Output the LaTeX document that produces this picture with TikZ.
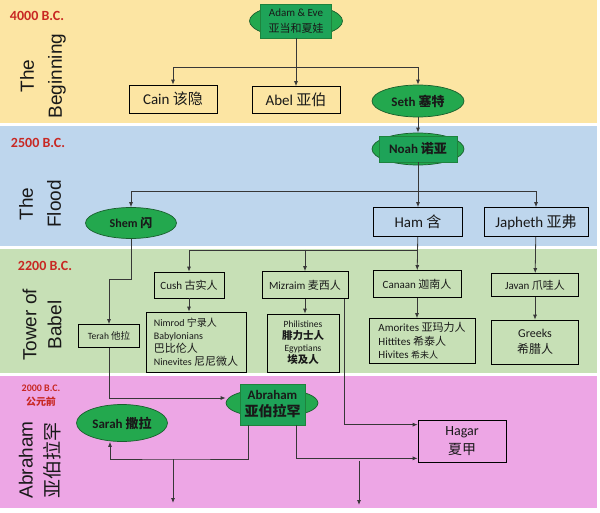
\documentclass[tikz,border=0pt]{standalone}
\usepackage{fontspec}
\setmainfont{Carlito}
\newfontfamily\cjk{Noto Sans CJK SC}
\newfontfamily\sidefont{Liberation Sans}
\usetikzlibrary{positioning, calc, shapes.geometric, arrows.meta}

\definecolor{bandYellow}{RGB}{252,229,163}
\definecolor{bandBlue}{RGB}{190,214,237}
\definecolor{bandGreen}{RGB}{199,224,182}
\definecolor{bandPink}{RGB}{237,166,229}
\definecolor{leaf}{RGB}{35,168,78}
\definecolor{leafBox}{RGB}{30,163,88}
\definecolor{leafDark}{RGB}{25,95,45}
\definecolor{eraRed}{RGB}{200,40,35}
\definecolor{ink}{RGB}{25,25,25}
\definecolor{linkGray}{RGB}{55,55,55}

\newcommand{\zh}[1]{{\cjk #1}}
\newcommand{\fs}[2]{\fontsize{#1}{#2}\selectfont}

\tikzstyle{Link} = [draw=linkGray, line width=0.8pt]
\tikzstyle{Arrow} = [Link, -{Latex[length=5pt, width=4pt]}]

\begin{document}
\begin{tikzpicture}[
x=1pt, y=-1pt,
box/.style={
    rectangle,
    draw=black,
    line width=0.7pt,
    inner sep=0pt,
    align=center,
    text=ink
    },
oval/.style={
    ellipse,
    draw=leafDark,
    fill=leaf,
    line width=0.7pt,
    inner sep=0pt,
    align=center,
    text=ink
    },
tab/.style={
    rectangle,
    fill=leafBox,
    draw=leafDark!50!leaf,
    line width=0.4pt,
    inner sep=0pt,
    align=center,
    text=ink
    },
era/.style={text=eraRed, align=center, font=\bfseries\fs{14}{16}},
period/.style={rotate=90, align=center, text=ink}
]

% background bands
\fill[white] (0,0) rectangle (600,513);
\useasboundingbox (0,0) rectangle (600,513);
\fill[bandYellow] (0,0) rectangle (597,123);
\fill[bandBlue] (0,126) rectangle (597,246);
\fill[bandGreen] (0,249) rectangle (597,373);
\fill[bandPink] (0,376) rectangle (597,508);

% period labels
\node[era] (d4000) at (37,16) {4000 B.C.};
\node[period, font=\sidefont\fs{19}{28}] (beginning) at (43,76) {The\\Beginning};
\node[era] (d2500) at (38,143) {2500 B.C.};
\node[period, font=\sidefont\fs{19}{28}] (flood) at (40,204) {The\\Flood};
\node[era] (d2200) at (45,266) {2200 B.C.};
\node[period, font=\sidefont\fs{19}{25}] (babel) at (42,325) {Tower of\\Babel};
\node[era, font=\bfseries\fs{10}{14}] (d2000) at (41,396) {2000 B.C.\\\zh{公元前}};
\node[period, font=\sidefont\fs{19}{27}] (abrlabel) at (40,460) {Abraham\\\zh{亚伯拉罕}};

% the beginning
\node[oval, minimum width=93, minimum height=33] (adamE) at (296,21) {};
\node[tab, minimum width=71, minimum height=34, font=\fs{11}{16}] (adam) at (296,21) {Adam \& Eve\\\zh{亚当和夏娃}};
\node[box, minimum width=88, minimum height=28, font=\fs{15}{18}] (cain) at (173,99) {Cain \zh{该隐}};
\node[box, minimum width=88, minimum height=27, font=\fs{15}{18}] (abel) at (296,100) {Abel \zh{亚伯}};
\node[oval, minimum width=92, minimum height=32, font=\bfseries\fs{13}{16}] (seth) at (418,101) {Seth \zh{塞特}};

% the flood
\node[oval, minimum width=92, minimum height=32] (noahE) at (418,149) {};
\node[tab, minimum width=78, minimum height=26, font=\bfseries\fs{13}{16}] (noah) at (418,149) {Noah \zh{诺亚}};
\node[oval, minimum width=91, minimum height=31, font=\bfseries\fs{12}{15}] (shem) at (131,223) {Shem \zh{闪}};
\node[box, minimum width=89, minimum height=29, font=\fs{15}{18}] (ham) at (418,222) {Ham \zh{含}};
\node[box, minimum width=104, minimum height=29, font=\fs{15}{18}] (japheth) at (536,222) {Japheth \zh{亚弗}};

% tower of babel
\node[box, minimum width=70, minimum height=26, font=\fs{11}{14}] (cush) at (189,285) {Cush \zh{古实人}};
\node[box, minimum width=86, minimum height=27, font=\fs{11}{14}] (mizraim) at (305,285) {Mizraim \zh{麦西人}};
\node[box, minimum width=88, minimum height=27, font=\fs{11}{14}] (canaan) at (417,284) {Canaan \zh{迦南人}};
\node[box, minimum width=87, minimum height=23, font=\fs{11}{14}] (javan) at (535,285) {Javan \zh{爪哇人}};
\node[box, minimum width=61, minimum height=23, font=\fs{9.5}{12}] (terah) at (109,336) {Terah \zh{他拉}};
\node[box, minimum width=100, minimum height=60, align=left, font=\fs{10}{13}] (nimrod) at (196,342)
    {Nimrod \zh{宁录人}\\Babylonians\\\zh{\fs{11}{13}巴比伦人}\\Ninevites \zh{\fs{11}{13}尼尼微人}};
\node[box, minimum width=72, minimum height=58, font=\fs{9.5}{12}] (phil) at (303,343)
    {Philistines\\\zh{\bfseries\fs{10.5}{12}腓力士人}\\Egyptians\\\zh{\bfseries\fs{10.5}{12}埃及人}};
\node[box, minimum width=106, minimum height=45, align=left, font=\fs{11}{13.5}] (amor) at (422,341)
    {Amorites \zh{亚玛力人}\\Hittites \zh{希泰人}\\Hivites \zh{\fs{9}{13.5}希未人}};
\node[box, minimum width=87, minimum height=44, font=\fs{12}{16}] (greeks) at (535,342) {Greeks\\\zh{希腊人}};

% abraham
\node[oval, minimum width=92, minimum height=29] (abrE) at (272,403) {};
\node[tab, minimum width=65, minimum height=41, font=\bfseries\fs{13}{17}] (abr) at (272.5,404.5) {Abraham\\\zh{\fs{14}{17}亚伯拉罕}};
\node[oval, minimum width=91, minimum height=37, font=\bfseries\fs{13}{16}] (sarah) at (122,423) {Sarah \zh{撒拉}};
\node[box, minimum width=88, minimum height=42, font=\fs{14}{19}] (hagar) at (462,441) {Hagar\\\zh{夏甲}};

% junctions
\coordinate (fork1) at (296,67);
\coordinate (fork2) at (418,191);
\coordinate (fork3) at (418,250);
\coordinate (bend1) at (131,279);
\coordinate (fork4) at (173,459);
\coordinate (exit1) at (173,503);
\coordinate (fork5) at (359,461);
\coordinate (exit2) at (359,505);

% connectors
\draw[Arrow] (adam) -- (abel);
\draw[Arrow] (fork1) -| (cain);
\draw[Arrow] (fork1) -| (seth);
\draw[Arrow] (seth) -- (noahE);

\draw[Arrow] (noah) -- (ham);
\draw[Arrow] (fork2) -| (shem);
\draw[Arrow] (fork2) -| (japheth);

\draw[Arrow] (ham) -- (canaan);
\draw[Arrow] (fork3) -| (cush);
\draw[Arrow] (fork3 -| mizraim) -- (mizraim);
\draw[Arrow] (japheth) -- (javan);
\draw[Arrow] (cush) -- (cush |- nimrod.north);
\draw[Arrow] (mizraim) -- (mizraim |- phil.north);
\draw[Arrow] (canaan) -- (canaan |- amor.north);
\draw[Arrow] (javan) -- (greeks);
\draw[Arrow] (shem) -- (bend1) -| (terah);

\draw[Arrow] (terah) |- ([yshift=5pt]abrE.west);
\draw[Arrow] ([xshift=-24pt]abr.south) |- (fork4) -| ([xshift=-12pt]sarah.south);
\draw[Arrow] (fork4) -- (exit1);
\draw[Arrow] ([xshift=24pt]abr.south) |- ([yshift=4pt]hagar.south west);
\draw[Arrow] (fork5) -- (exit2);
\draw[Arrow] ([xshift=-4pt]mizraim.south east) |- ([yshift=-5pt]hagar.north west);

\end{tikzpicture}
\end{document}
